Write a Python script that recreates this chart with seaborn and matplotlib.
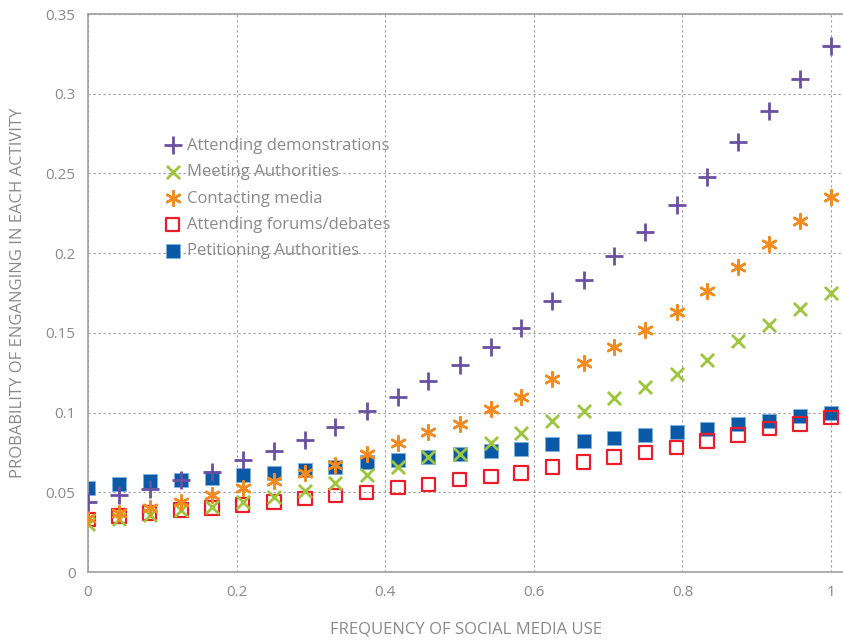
import matplotlib
matplotlib.use("Agg")
import matplotlib.pyplot as plt
import seaborn as sns
import numpy as np
import pandas as pd

# frequency of social media use (25 steps, 0..1)
freq = [0, 0.042, 0.083, 0.125, 0.167, 0.208, 0.25, 0.292, 0.333, 0.375, 0.417, 0.458, 0.5,
        0.542, 0.583, 0.625, 0.667, 0.708, 0.75, 0.792, 0.833, 0.875, 0.917, 0.958, 1.0]

demonstrations = [0.044, 0.048, 0.052, 0.058, 0.063, 0.070, 0.076, 0.083, 0.091, 0.101, 0.110, 0.120, 0.130,
                  0.141, 0.153, 0.170, 0.183, 0.198, 0.213, 0.230, 0.248, 0.270, 0.289, 0.309, 0.330]
meeting = [0.030, 0.033, 0.036, 0.039, 0.041, 0.044, 0.047, 0.051, 0.056, 0.061, 0.066, 0.072, 0.074,
           0.081, 0.087, 0.095, 0.101, 0.109, 0.116, 0.124, 0.133, 0.145, 0.155, 0.165, 0.175]
media = [0.034, 0.037, 0.040, 0.044, 0.048, 0.053, 0.057, 0.062, 0.067, 0.074, 0.081, 0.088, 0.093,
         0.102, 0.110, 0.121, 0.131, 0.141, 0.152, 0.163, 0.176, 0.191, 0.206, 0.220, 0.235]
forums = [0.033, 0.035, 0.037, 0.039, 0.040, 0.042, 0.044, 0.046, 0.048, 0.050, 0.053, 0.055, 0.058,
          0.060, 0.062, 0.066, 0.069, 0.072, 0.075, 0.078, 0.082, 0.086, 0.090, 0.093, 0.097]
petitioning = [0.053, 0.055, 0.057, 0.058, 0.059, 0.061, 0.062, 0.064, 0.066, 0.069, 0.070, 0.072, 0.074,
               0.076, 0.077, 0.080, 0.082, 0.084, 0.086, 0.088, 0.090, 0.093, 0.095, 0.098, 0.100]

labels = ["Attending demonstrations", "Meeting Authorities", "Contacting media",
          "Attending forums/debates", "Petitioning Authorities"]

sns.set_style("white")
plt.rcParams['font.family'] = ['Open Sans', 'DejaVu Sans']
grey = "#8a8a8a"

fig = plt.figure(figsize=(8.43, 6.42), dpi=100)
ax = fig.add_axes([88/843, 1-572/642, 1-88/843, (572-14)/642])

sns.scatterplot(x=freq, y=petitioning, marker="s", color="#0a5aa8", s=95, linewidth=0.6,
                edgecolor="#7fb0dd", ax=ax, zorder=2, label=labels[4])
sns.scatterplot(x=freq, y=forums, marker="s", facecolors="none", edgecolor="#ec1c2a", s=95,
                linewidth=1.6, ax=ax, zorder=3, label=labels[3])
sns.scatterplot(x=freq, y=meeting, marker="x", color="#9cc63b", s=90, linewidth=2.0,
                ax=ax, zorder=4, label=labels[1])
sns.scatterplot(x=freq, y=media, marker=(6, 2, 0), color="#f58a1f", s=110, linewidth=1.8,
                ax=ax, zorder=5, label=labels[2])
sns.scatterplot(x=freq, y=demonstrations, marker="+", color="#6a4fa3", s=170, linewidth=2.0,
                ax=ax, zorder=6, label=labels[0])

ax.set_xlim(0, 1.016)
ax.set_ylim(0, 0.35)
ax.set_xticks([0, 0.2, 0.4, 0.6, 0.8, 1])
ax.set_xticklabels(["0", "0.2", "0.4", "0.6", "0.8", "1"])
ax.set_yticks([0, 0.05, 0.1, 0.15, 0.2, 0.25, 0.3, 0.35])
ax.set_yticklabels(["0", "0.05", "0.1", "0.15", "0.2", "0.25", "0.3", "0.35"])
ax.grid(True, color="#9a9a9a", linestyle=(0, (2, 2.5)), linewidth=0.8)
ax.set_axisbelow(True)
for side in ["left", "bottom", "top"]:
    ax.spines[side].set_color("#a0a0a0")
    ax.spines[side].set_linewidth(1.2)
ax.spines["right"].set_visible(False)
ax.tick_params(colors=grey, labelsize=11, length=0, pad=9)

ax.set_xlabel("FREQUENCY OF SOCIAL MEDIA USE", color=grey, fontsize=12, labelpad=16)
ax.set_ylabel("PROBABILITY OF ENGANGING IN EACH ACTIVITY", color=grey, fontsize=12, labelpad=14)

# legend in the same order as the reference
handles, labs = ax.get_legend_handles_labels()
order = [labs.index(l) for l in labels]
leg = ax.legend([handles[i] for i in order], [labs[i] for i in order],
                loc="upper left", bbox_to_anchor=(0.09, 0.79), frameon=False,
                fontsize=12, labelspacing=0.62, handletextpad=0.25, handlelength=1.2,
                borderaxespad=0)
for t in leg.get_texts():
    t.set_color(grey)

fig.savefig("out.png", dpi=100)
